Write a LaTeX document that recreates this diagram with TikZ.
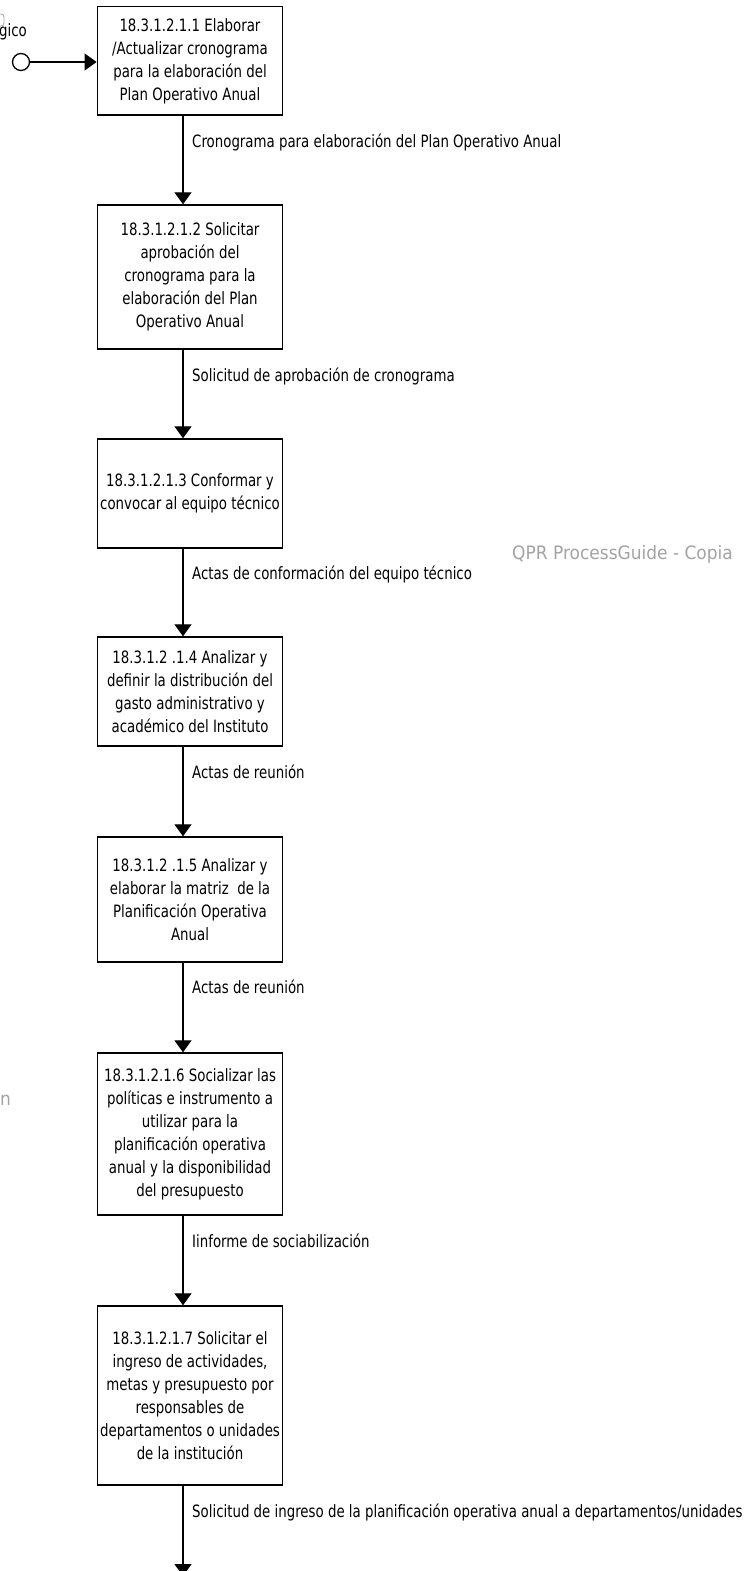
\documentclass[tikz,border=0pt]{standalone}
\usepackage{fontspec}
\setmainfont{DejaVu Sans}[FakeStretch=0.785]
\newfontfamily\wmfam{DejaVu Sans}[FakeStretch=0.92]
\usetikzlibrary{arrows.meta}
\newcommand\boxfont{\fontsize{17}{23}\selectfont}
\newcommand\wmfont{\wmfam\fontsize{18.5}{23}\selectfont}
\begin{document}
\begin{tikzpicture}[x=1pt,y=-1pt,
  procbox/.style={draw, line width=1.4pt, minimum width=185.4pt, inner sep=2pt, align=center, font=\boxfont},
  flow/.style={line width=1.3pt, -{Triangle[length=12pt,width=17pt]}},
  lbl/.style={anchor=base west, inner sep=0pt, font=\boxfont},
  wm/.style={anchor=base west, inner sep=0pt, text=black!36, font=\wmfont}]
\useasboundingbox (0,0) rectangle (744,1571);
\coordinate (cx) at (183,0);

\node[procbox, minimum height=108.3pt] (b1) at (190,60.85) {18.3.1.2.1.1 Elaborar\\/Actualizar cronograma\\para la elaboración del\\Plan Operativo Anual};
\node[procbox, minimum height=144pt] (b2) at (190,277) {18.3.1.2.1.2 Solicitar\\aprobación del\\cronograma para la\\elaboración del Plan\\Operativo Anual};
\node[procbox, minimum height=109pt] (b3) at (190,493.5) {18.3.1.2.1.3 Conformar y\\convocar al equipo técnico};
\node[procbox, minimum height=109pt] (b4) at (190,691.5) {18.3.1.2 .1.4 Analizar y\\definir la distribución del\\gasto administrativo y\\académico del Instituto};
\node[procbox, minimum height=125pt] (b5) at (190,899.5) {18.3.1.2 .1.5 Analizar y\\elaborar la matriz\ \ de la\\Planificación Operativa\\Anual};
\node[procbox, minimum height=162pt] (b6) at (190,1134) {18.3.1.2.1.6 Socializar las\\políticas e instrumento a\\utilizar para la\\planificación operativa\\anual y la disponibilidad\\del presupuesto};
\node[procbox, minimum height=179pt] (b7) at (190,1395.5) {18.3.1.2.1.7 Solicitar el\\ingreso de actividades,\\metas y presupuesto por\\responsables de\\departamentos o unidades\\de la institución};

\node[draw, circle, line width=1.3pt, minimum size=17pt, inner sep=0pt] (start) at (21,62) {};
\draw[flow] (start) -- (start -| b1.west);

\draw[flow] (b1.south -| cx) -- (b2.north -| cx);
\draw[flow] (b2.south -| cx) -- (b3.north -| cx);
\draw[flow] (b3.south -| cx) -- (b4.north -| cx);
\draw[flow] (b4.south -| cx) -- (b5.north -| cx);
\draw[flow] (b5.south -| cx) -- (b6.north -| cx);
\draw[flow] (b6.south -| cx) -- (b7.north -| cx);
\coordinate (endpt) at (183,1576);
\draw[flow] (b7.south -| cx) -- (endpt);

\node[lbl] (l1) at (192,147) {Cronograma para elaboración del Plan Operativo Anual};
\node[lbl] (l2) at (192,381) {Solicitud de aprobación de cronograma};
\node[lbl] (l3) at (192,579) {Actas de conformación del equipo técnico};
\node[lbl] (l4) at (192,778) {Actas de reunión};
\node[lbl] (l5) at (192,993) {Actas de reunión};
\node[lbl] (l6) at (192,1247) {Iinforme de sociabilización};
\node[lbl] (l7) at (192,1517) {Solicitud de ingreso de la planificación operativa anual a departamentos/unidades};

\node[lbl] (gico) at (-1,37) {gico};
\draw[black!35, line width=0.8pt, rounded corners=3pt] (-20,14) -- (4,14) -- (4,26) -- (-20,26);
\node[wm] (wm1) at (512,559) {QPR ProcessGuide - Copia};
\node[wm] (wm2) at (0,1105) {n};
\end{tikzpicture}
\end{document}
